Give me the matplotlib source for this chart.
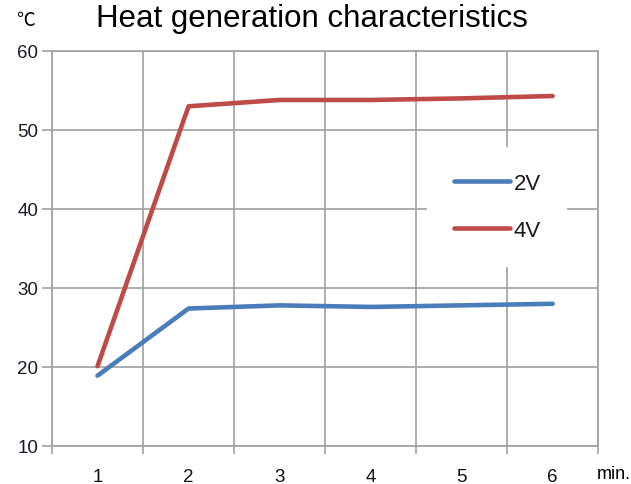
import matplotlib.pyplot as plt

# data
minutes = [1, 2, 3, 4, 5, 6]
temp_2v = [18.9, 27.4, 27.8, 27.6, 27.8, 28.0]
temp_4v = [20.1, 53.0, 53.8, 53.8, 54.0, 54.3]
yticks = [10, 20, 30, 40, 50, 60]

plt.rcParams['font.family'] = ['Liberation Sans', 'DejaVu Sans']

fig = plt.figure(figsize=(6.31, 4.85), dpi=100)
ax = fig.add_axes([0.0824, 0.0784, 0.8656, 0.8144])

grid_c = '#a0a0a0'
ax.plot(minutes, temp_2v, color='#4a7ebb', lw=3.3, solid_capstyle='round', label='2V', zorder=3)
ax.plot(minutes, temp_4v, color='#be4b48', lw=3.3, solid_capstyle='round', label='4V', zorder=3)

ax.set_xlim(0.5, 6.5)
ax.set_ylim(10, 60)
ax.set_yticks(yticks)
ax.set_xticks(minutes)
ax.set_xticks([m + 0.5 for m in [0] + minutes], minor=True)
ax.tick_params(axis='x', which='major', length=0, pad=16, labelsize=13.5, labelcolor='#111111')
ax.tick_params(axis='x', which='minor', length=6, width=1.2, color=grid_c)
ax.tick_params(axis='y', length=7, width=1.2, color=grid_c, labelsize=13.5, labelcolor='#1a1a2a', pad=3)

ax.grid(True, axis='y', color=grid_c, lw=1.2)
ax.grid(True, axis='x', which='minor', color=grid_c, lw=1.2)
ax.set_axisbelow(True)
for sp in ax.spines.values():
    sp.set_color(grid_c)
    sp.set_linewidth(1.2)

leg = ax.legend(loc='center', bbox_to_anchor=(0.815, 0.605), frameon=True, fancybox=False,
                facecolor='white', edgecolor='none', framealpha=1, fontsize=16,
                handlelength=2.55, handletextpad=0.15, labelspacing=1.15, borderpad=1.2)
for t in leg.get_texts():
    t.set_color('#1a1a1a')

fig.text(0.494, 0.96, 'Heat generation characteristics', ha='center', va='center', fontsize=22.5)
fig.text(0.041, 0.958, '℃', ha='center', va='center', fontsize=13.5,
         family=['Noto Sans CJK JP', 'DejaVu Sans'])
fig.text(0.972, 0.022, 'min.', ha='center', va='center', fontsize=13)

fig.savefig('out.png', dpi=100)
